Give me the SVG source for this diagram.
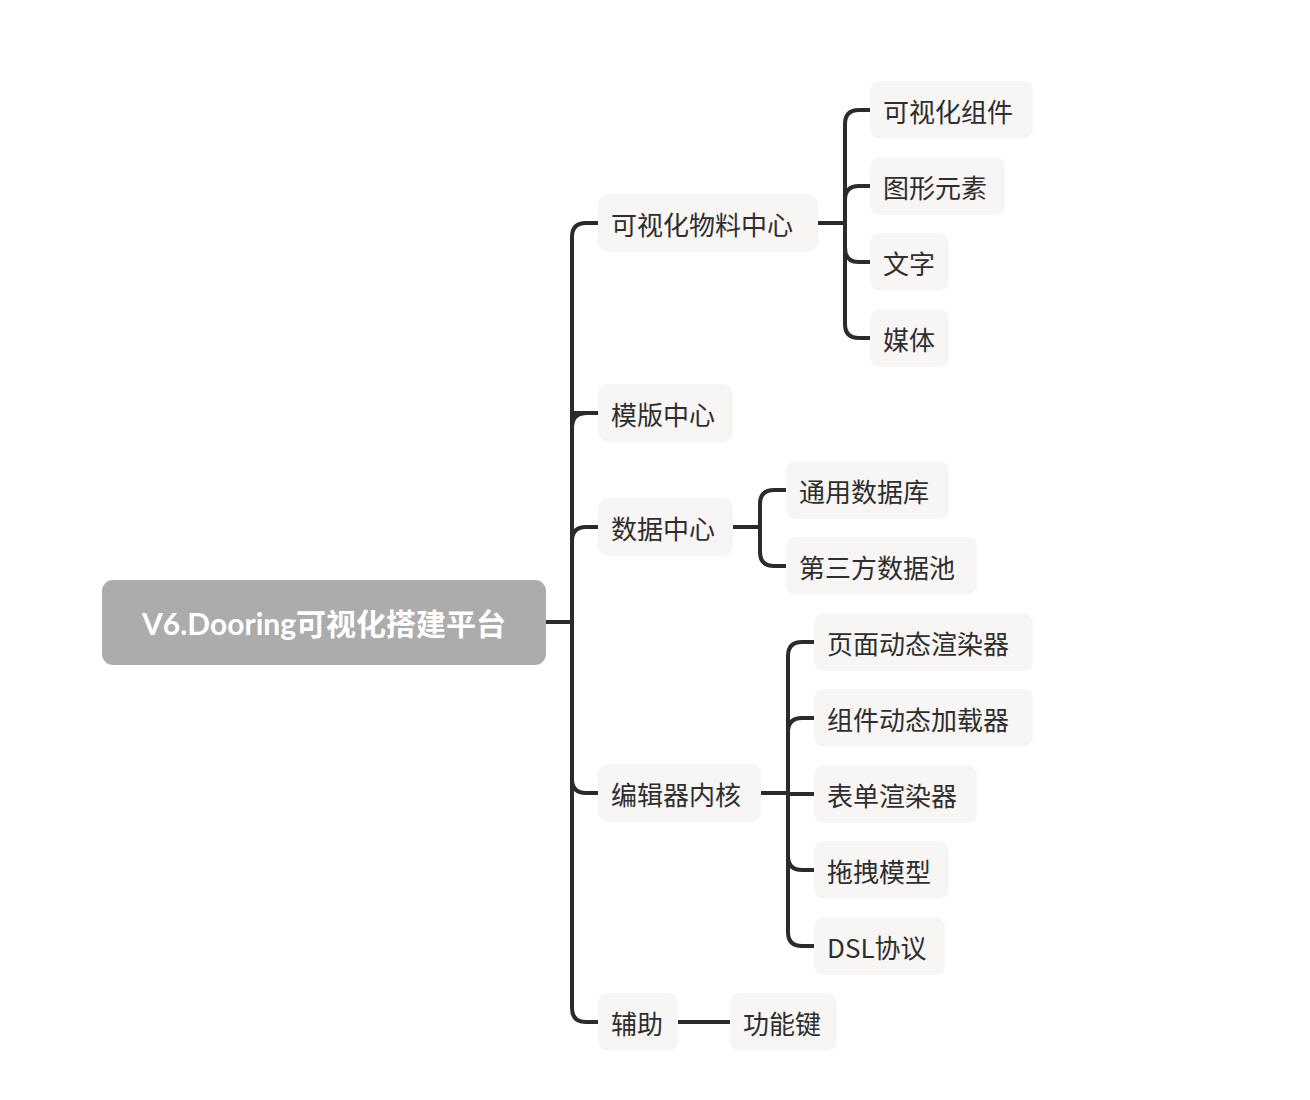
<svg xmlns="http://www.w3.org/2000/svg" width="1310" height="1100" viewBox="0 0 1310 1100">
<style>
.n rect{fill:#f8f5f5}
.n text{font-family:"Noto Sans CJK SC","Noto Sans",sans-serif;font-size:26px;fill:#2e2e2e;dominant-baseline:central}
.c path{fill:none;stroke:#2b2b2b;stroke-width:4;stroke-linecap:round}
</style>
<rect width="1310" height="1100" fill="#fff"/>
<g class="c">
<path d="M546 622H572"/>
<path d="M598 223H586Q572 223 572 237V1008Q572 1022 586 1022H598"/>
<path d="M572 413Q572 413 572 413M586 413Q572 413 572 427M572 413Q572 413 586 413H598"/>
<path d="M572 541Q572 527 586 527H598"/>
<path d="M572 779Q572 793 586 793H598"/>
<path d="M572 427Q572 413 586 413"/>
<path d="M818 223H845"/>
<path d="M870 110H859Q845 110 845 124V324Q845 338 859 338H870"/>
<path d="M845 200Q845 186 859 186H870"/>
<path d="M845 248Q845 262 859 262H870"/>
<path d="M733 527H760"/>
<path d="M786 490H774Q760 490 760 504V552Q760 566 774 566H786"/>
<path d="M761 793H788"/>
<path d="M814 642H802Q788 642 788 656V932Q788 946 802 946H814"/>
<path d="M788 732Q788 718 802 718H814"/>
<path d="M788 794H814"/>
<path d="M788 856Q788 870 802 870H814"/>
<path d="M678 1022H730"/>
</g>
<g id="root"><rect x="102" y="580" width="444" height="85" rx="11" fill="#acacac"/><text x="324" y="623" text-anchor="middle" font-family="Lato,'Noto Sans CJK SC',sans-serif" font-weight="bold" font-size="30" fill="#fff" dominant-baseline="central">V6.Dooring可视化搭建平台</text></g>
<g id="n1" class="n"><rect x="598" y="194" width="220" height="58" rx="10"/><text x="611" y="223">可视化物料中心</text></g>
<g id="n2" class="n"><rect x="598" y="384" width="135" height="58" rx="10"/><text x="611" y="413">模版中心</text></g>
<g id="n3" class="n"><rect x="598" y="498" width="135" height="58" rx="10"/><text x="611" y="527">数据中心</text></g>
<g id="n4" class="n"><rect x="598" y="764" width="163" height="58" rx="10"/><text x="611" y="793">编辑器内核</text></g>
<g id="n5" class="n"><rect x="598" y="993" width="80" height="58" rx="10"/><text x="611" y="1022">辅助</text></g>
<g id="n11" class="n"><rect x="870" y="81" width="163" height="58" rx="10"/><text x="883" y="110">可视化组件</text></g>
<g id="n12" class="n"><rect x="870" y="157" width="135" height="58" rx="10"/><text x="883" y="186">图形元素</text></g>
<g id="n13" class="n"><rect x="870" y="233" width="79" height="58" rx="10"/><text x="883" y="262">文字</text></g>
<g id="n14" class="n"><rect x="870" y="309" width="79" height="58" rx="10"/><text x="883" y="338">媒体</text></g>
<g id="n31" class="n"><rect x="786" y="461" width="163" height="58" rx="10"/><text x="799" y="490">通用数据库</text></g>
<g id="n32" class="n"><rect x="786" y="537" width="191" height="58" rx="10"/><text x="799" y="566">第三方数据池</text></g>
<g id="n41" class="n"><rect x="814" y="613" width="219" height="58" rx="10"/><text x="827" y="642">页面动态渲染器</text></g>
<g id="n42" class="n"><rect x="814" y="689" width="219" height="58" rx="10"/><text x="827" y="718">组件动态加载器</text></g>
<g id="n43" class="n"><rect x="814" y="765" width="163" height="58" rx="10"/><text x="827" y="794">表单渲染器</text></g>
<g id="n44" class="n"><rect x="814" y="841" width="135" height="58" rx="10"/><text x="827" y="870">拖拽模型</text></g>
<g id="n45" class="n"><rect x="814" y="917" width="131" height="58" rx="10"/><text x="827" y="946">DSL协议</text></g>
<g id="n51" class="n"><rect x="730" y="993" width="107" height="58" rx="10"/><text x="743" y="1022">功能键</text></g>
</svg>
